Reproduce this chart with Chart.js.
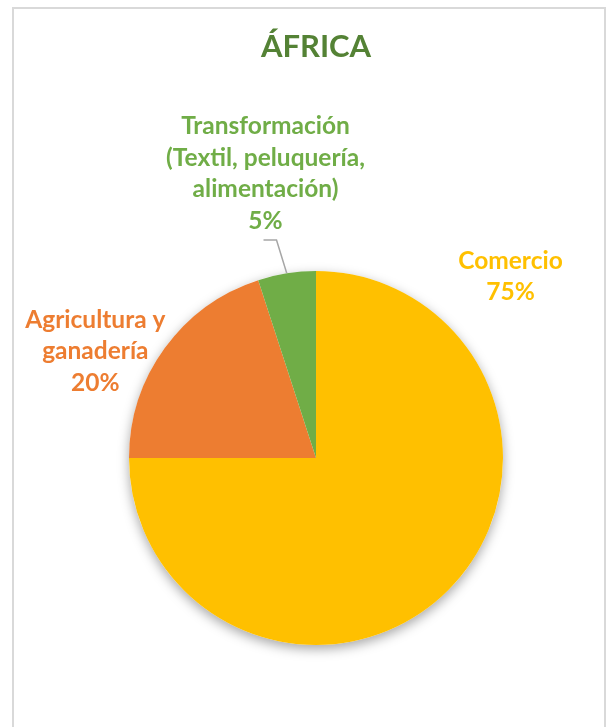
<!DOCTYPE html>
<html>
<head>
<meta charset="utf-8">
<script src="https://cdn.jsdelivr.net/npm/chart.js@4.4.0/dist/chart.umd.min.js"></script>
<style>
    html, body { margin: 0; padding: 0; background: #fff; }
    #wrap { position: relative; width: 608px; height: 727px; }
    #frame { position: absolute; left: 12px; top: 7px; width: 590px; height: 730px; border: 2px solid #d9d9d9; pointer-events: none; }
</style>
</head>
<body>
<div id="wrap">
    <canvas id="africaChart" width="608" height="727"></canvas>
    <div id="frame"></div>
</div>
<script>
const categories = [
    ['Comercio'],
    ['Agricultura y', 'ganadería'],
    ['Transformación', '(Textil, peluquería,', 'alimentación)']
];
const values = [75, 20, 5];
const percentLabels = ['75%', '20%', '5%'];
const sliceColors = ['#FFC000', '#ED7D31', '#70AD47'];

// where each label block sits, relative to the pie centre, in radius units
const labelOffsets = [
    { dx: 1.04, dy: -0.97 },
    { dx: -1.18, dy: -0.57 },
    { dx: -0.27, dy: -1.52 }
];

const FONT = 'Lato, "Open Sans", sans-serif';

const pieShadow = {
    id: 'pieShadow',
    beforeDatasetsDraw(chart) {
        const arc = chart.getDatasetMeta(0).data[0];
        if (!arc) return;
        const ctx = chart.ctx;
        ctx.save();
        ctx.shadowColor = 'rgba(0,0,0,0.35)';
        ctx.shadowBlur = 12;
        ctx.shadowOffsetY = 4;
        ctx.fillStyle = '#ffffff';
        ctx.beginPath();
        ctx.arc(arc.x, arc.y, arc.outerRadius, 0, Math.PI * 2);
        ctx.fill();
        ctx.restore();
    }
};

const sliceLabels = {
    id: 'sliceLabels',
    afterDatasetsDraw(chart) {
        const ctx = chart.ctx;
        const arcs = chart.getDatasetMeta(0).data;
        const lineH = 31.5;
        ctx.save();
        ctx.font = 'bold 24.5px ' + FONT;
        ctx.textAlign = 'center';
        ctx.textBaseline = 'middle';
        arcs.forEach(function (arc, i) {
            const r = arc.outerRadius;
            const lx = arc.x + labelOffsets[i].dx * r;
            const ly = arc.y + labelOffsets[i].dy * r;
            const lines = categories[i].concat([percentLabels[i]]);
            const top = ly - (lines.length - 1) * lineH / 2;
            ctx.fillStyle = sliceColors[i];
            lines.forEach(function (t, k) {
                ctx.fillText(t, lx, top + k * lineH);
            });
            if (i === 2) {
                // leader line for the small slice
                const mid = (arc.startAngle + arc.endAngle) / 2;
                const sx = arc.x + Math.cos(mid) * r;
                const sy = arc.y + Math.sin(mid) * r;
                const by = top + (lines.length - 1) * lineH + 19;
                ctx.strokeStyle = '#a6a6a6';
                ctx.lineWidth = 1.5;
                ctx.beginPath();
                ctx.moveTo(sx, sy);
                ctx.lineTo(lx + 11, by);
                ctx.lineTo(lx - 2, by);
                ctx.stroke();
            }
        });
        ctx.restore();
    }
};

new Chart(document.getElementById('africaChart').getContext('2d'), {
    type: 'pie',
    data: {
        labels: categories.map(c => c.join(' ')),
        datasets: [{
            data: values,
            backgroundColor: sliceColors,
            borderWidth: 0
        }]
    },
    options: {
        responsive: false,
        animation: false,
        layout: {
            padding: { left: 129, right: 105, top: 28, bottom: 82 }
        },
        plugins: {
            legend: { display: false },
            tooltip: { enabled: false },
            title: {
                display: true,
                text: 'ÁFRICA',
                color: '#548235',
                font: { family: FONT, size: 31, weight: 'bold', lineHeight: 1.2 },
                padding: { top: 0, bottom: 205.8 }
            }
        }
    },
    plugins: [pieShadow, sliceLabels]
});
</script>
</body>
</html>
